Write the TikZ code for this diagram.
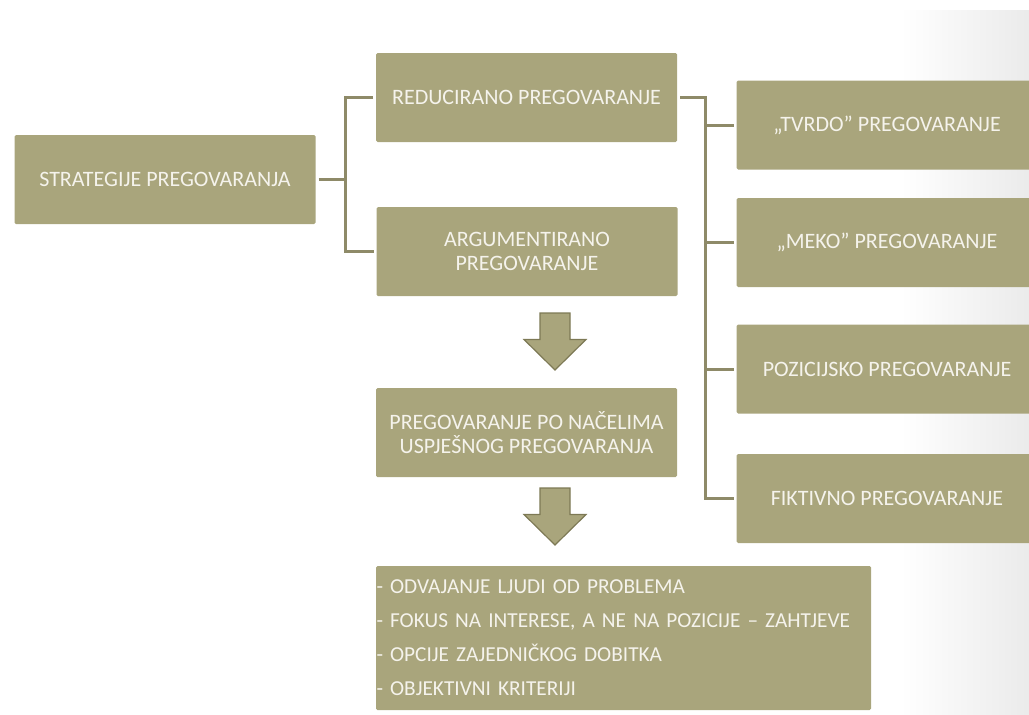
\documentclass[tikz,border=0pt]{standalone}
\usepackage{fontspec}
\setmainfont{Carlito}
\definecolor{boxfill}{HTML}{A9A57C}
\definecolor{linecol}{HTML}{8E8A68}
\definecolor{arrowline}{HTML}{7D7955}
\definecolor{boxtext}{HTML}{F5F3EC}
\begin{document}
\begin{tikzpicture}[x=1pt,y=-1pt]
      \useasboundingbox (0,0) rectangle (1029,715);
      \shade[left color=white,right color=black!8] (900,10) rectangle (1029,715);
      \begin{scope}[every node/.style={fill=boxfill,text=boxtext,rounded corners=1.5pt,
          minimum width=301pt,minimum height=89pt,inner sep=0pt,outer sep=3pt,
          align=center,font=\fontsize{22}{24}\selectfont}]
        \node (strat) at (165  ,179.5) {STRATEGIJE PREGOVARANJA};
        \node (red)   at (526.5, 97.5) {REDUCIRANO PREGOVARANJE};
        \node (arg)   at (527  ,251.5) {ARGUMENTIRANO\\PREGOVARANJE};
        \node (nac)   at (526.5,432.5) {PREGOVARANJE PO NAČELIMA\\USPJEŠNOG PREGOVARANJA};
        \node (tvrdo) at (887  ,125  ) {„TVRDO” PREGOVARANJE};
        \node (meko)  at (887  ,242.5) {„MEKO” PREGOVARANJE};
        \node (poz)   at (887  ,369  ) {POZICIJSKO PREGOVARANJE};
        \node (fikt)  at (887  ,498.5) {FIKTIVNO PREGOVARANJE};
        \node[minimum width=495pt,minimum height=144pt,text width=494pt,inner xsep=0.5pt,
          align=left,font=\fontsize{21.3}{34}\selectfont] (nac2) at (623.5,638)
          {- ODVAJANJE LJUDI OD PROBLEMA\\- FOKUS NA INTERESE, A NE NA POZICIJE – ZAHTJEVE\\
           - OPCIJE ZAJEDNIČKOG DOBITKA\\- OBJEKTIVNI KRITERIJI};
      \end{scope}
      \coordinate (j1) at (345,179.5);
      \coordinate (j2) at (705,97.5);
      \begin{scope}[draw=linecol,line width=3pt]
        \draw (strat.east) -- (j1);
        \draw (red.west) -| (j1) |- (arg.west);
        \draw (red.east) -- (j2) |- (fikt.west);
        \foreach \n in {tvrdo,meko,poz}
          \draw (j2) |- (\n.west);
      \end{scope}
      \foreach \y in {313,488}
        \draw[fill=boxfill,draw=arrowline,line width=1.2pt,line join=miter]
          (540,\y) -- (570,\y) -- (570,\y+26.5) -- (586,\y+26.5) -- (555,\y+57)
          -- (524,\y+26.5) -- (540,\y+26.5) -- cycle;
    \end{tikzpicture}
\end{document}
